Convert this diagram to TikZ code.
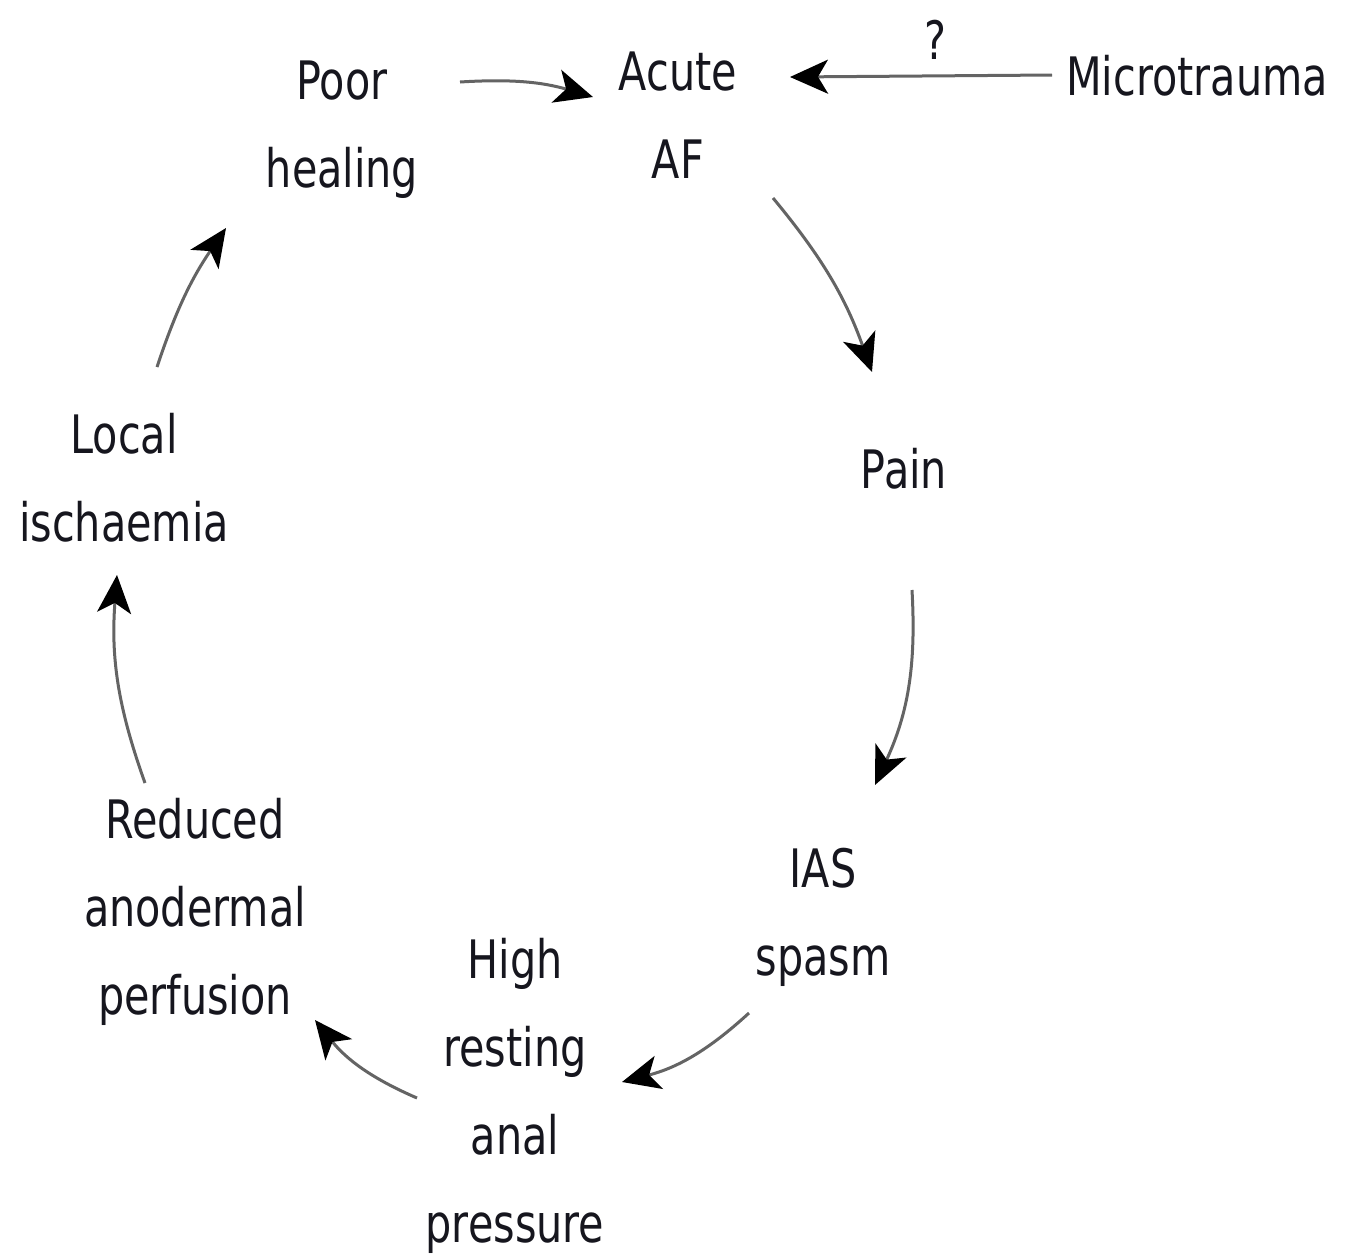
\documentclass[tikz,border=0pt]{standalone}
\usepackage{fontspec}
\setmainfont[FakeStretch=0.78]{DejaVu Sans}
\usetikzlibrary{arrows.meta,calc}
\definecolor{txt}{RGB}{22,22,30}
\definecolor{linegray}{RGB}{100,100,100}
\begin{document}
\begin{tikzpicture}[x=0.5pt,y=-0.5pt,
  lbl/.style={inner sep=0pt,align=center,text=txt,font=\fontsize{26.5pt}{44pt}\selectfont},
  arr/.style={draw=linegray,line width=1.5pt,-{Stealth[length=19pt,width=17pt,inset=5pt,color=black]}}]
\useasboundingbox[fill=white] (0,0) rectangle (1346,1260);
\node[lbl] (poor) at (342,130) {Poor\\healing};
\node[lbl] (acute) at (678,115) {Acute\\AF};
\node[lbl] (micro) at (1197,76) {Microtrauma};
\node[lbl] (pain) at (904,469) {Pain};
\node[lbl] (ias) at (823,917) {IAS\\spasm};
\node[lbl] (high) at (515,1096) {High\\resting\\anal\\pressure};
\node[lbl] (reduced) at (195,912) {Reduced\\anodermal\\perfusion};
\node[lbl] (local) at (124,478) {Local\\ischaemia};
\node[lbl] (q) at (935,40) {?};

\draw[arr] ($(poor.center)+(118,-48)$) to[bend left=10] ($(acute.center)+(-85,-18)$);
\draw[arr] ($(micro.center)+(-145,-1)$) -- ($(acute.center)+(112,-38)$);
\draw[arr] ($(acute.center)+(95,83)$) to[bend left=10] ($(pain.center)+(-32,-97)$);
\draw[arr] ($(pain.center)+(8,121)$) to[bend left=14] ($(ias.center)+(52,-132)$);
\draw[arr] ($(ias.center)+(-74,96)$) to[bend left=14] ($(high.center)+(107,-14)$);
\draw[arr] ($(high.center)+(-98,2)$) to[bend left=14] ($(reduced.center)+(120,108)$);
\draw[arr] ($(reduced.center)+(-50,-129)$) to[bend left=12] ($(local.center)+(-7,97)$);
\draw[arr] ($(local.center)+(33,-111)$) to[bend left=8] ($(poor.center)+(-116,98)$);
\end{tikzpicture}
\end{document}
